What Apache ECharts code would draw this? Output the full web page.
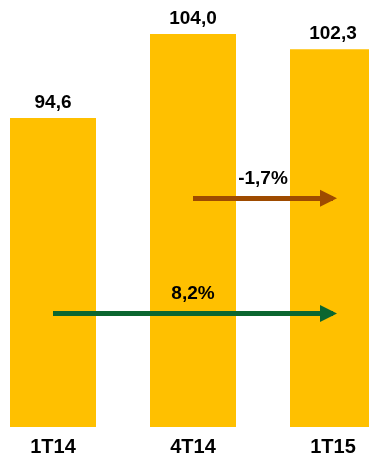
<!DOCTYPE html>
<html>
<head>
<meta charset="utf-8">
<script src="https://cdn.jsdelivr.net/npm/echarts@6/dist/echarts.min.js"></script>
<style>html,body{margin:0;padding:0;background:#fff}#c{width:369px;height:459px}</style>
</head>
<body>
<div id="c"></div>
<script>
var categories = ['1T14', '4T14', '1T15'];
var values = [94.6, 104.0, 102.3];
var valueLabels = ['94,6', '104,0', '102,3'];
var growthShort = '-1,7%';   // 4T14 -> 1T15
var growthLong = '8,2%';     // 1T14 -> 1T15

var chart = echarts.init(document.getElementById('c'), null, {renderer: 'canvas'});
var font = 'Liberation Sans, Arial, sans-serif';

function arrow(fromCat, toCat, level, text, color) {
  return [
    {coord: [fromCat, level], symbol: 'none',
     lineStyle: {color: color, width: 5, type: 'solid'},
     label: {show: true, formatter: text, position: 'middle', distance: 10,
             color: '#000', fontSize: 19, fontWeight: 'bold', fontFamily: font}},
    {coord: [toCat, level], symbol: 'triangle', symbolSize: [17, 17], symbolOffset: [0, 4.5]}
  ];
}

chart.setOption({
  animation: false,
  grid: {left: -17, width: 420, top: 34, bottom: 32, containLabel: false, outerBoundsMode: 'none'},
  xAxis: {
    type: 'category', data: categories,
    axisLine: {show: false}, axisTick: {show: false},
    axisLabel: {color: '#000', fontSize: 20, fontWeight: 'bold', fontFamily: font, margin: 10}
  },
  yAxis: {type: 'value', min: 60, max: 104, show: false, splitLine: {show: false}},
  series: [{
    type: 'bar',
    data: values,
    barWidth: 86,
    itemStyle: {color: '#FFC000'},
    label: {show: true, position: 'top', distance: 6, color: '#000', fontSize: 19,
            fontWeight: 'bold', fontFamily: font,
            formatter: function (p) { return valueLabels[p.dataIndex]; }},
    markLine: {
      silent: true,
      symbol: ['none', 'triangle'],
      emphasis: {disabled: true},
      data: [
        arrow('4T14', '1T15', 85.6, growthShort, '#9E4B00'),
        arrow('1T14', '1T15', 72.7, growthLong, '#0B6630')
      ]
    }
  }]
});
</script>
</body>
</html>
